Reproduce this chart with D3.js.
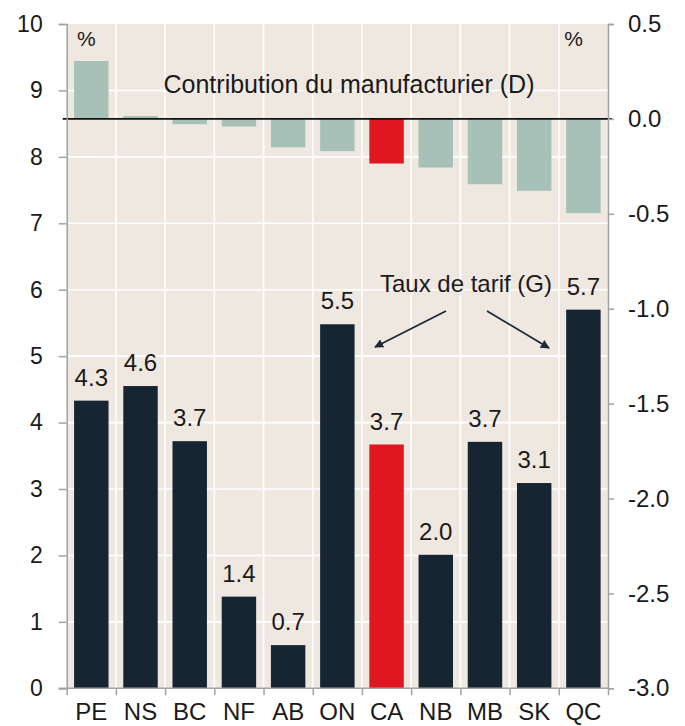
<!DOCTYPE html>
<html>
<head>
<meta charset="utf-8">
<script src="https://cdn.jsdelivr.net/npm/d3@7"></script>
<style>
  html, body { margin: 0; padding: 0; background: #ffffff; }
  svg { display: block; font-family: "Liberation Sans", Arial, sans-serif; }
</style>
</head>
<body>
<svg id="chart" width="685" height="726"></svg>
<script>
// ---- Data ----
const categories = ["PE", "NS", "BC", "NF", "AB", "ON", "CA", "NB", "MB", "SK", "QC"];
const tariffRate = [4.33, 4.55, 3.72, 1.38, 0.65, 5.48, 3.67, 2.01, 3.71, 3.09, 5.70];     // left axis (G)
const tariffLabels = ["4.3", "4.6", "3.7", "1.4", "0.7", "5.5", "3.7", "2.0", "3.7", "3.1", "5.7"];
const manufContribution = [0.305, 0.015, -0.028, -0.04, -0.15, -0.17, -0.235, -0.256, -0.344, -0.379, -0.497]; // right axis (D)
const highlight = "CA";
const leftTicks = [0, 1, 2, 3, 4, 5, 6, 7, 8, 9, 10];
const rightTicks = [0.5, 0.0, -0.5, -1.0, -1.5, -2.0, -2.5, -3.0];

// ---- Layout ----
const svg = d3.select("#chart");
const L = 66.7, R = 608, T = 24, B = 688.3;
const bg = "#efe8e1", dark = "#172532", red = "#e0171f", teal = "#a7c0b8", axisGrey = "#a3a3a3", ink = "#1a1a1a";

const x = d3.scaleBand().domain(categories).range([L, R]).paddingInner(0.3).paddingOuter(0.15);
const yL = d3.scaleLinear().domain([0, 10]).range([B, T]);
const yR = d3.scaleLinear().domain([-3, 0.5]).range([B, T]);
const step = x.step();

// background
svg.append("rect").attr("x", L).attr("y", T).attr("width", R - L).attr("height", B - T).attr("fill", bg);

// gridlines
const grid = svg.append("g").attr("stroke", "#ffffff").attr("stroke-width", 1.6);
leftTicks.filter(d => d > 0 && d < 10).forEach(d => {
  grid.append("line").attr("x1", L).attr("x2", R).attr("y1", yL(d)).attr("y2", yL(d));
});
d3.range(1, categories.length).forEach(i => {
  const gx = L + step * i;
  grid.append("line").attr("x1", gx).attr("x2", gx).attr("y1", T).attr("y2", B);
});

// tariff bars (left axis)
const data = categories.map((c, i) => ({ c, g: tariffRate[i], lab: tariffLabels[i], d: manufContribution[i] }));
svg.append("g").selectAll("rect").data(data).join("rect")
  .attr("x", d => x(d.c)).attr("width", x.bandwidth())
  .attr("y", d => yL(d.g)).attr("height", d => yL(0) - yL(d.g))
  .attr("fill", d => d.c === highlight ? red : dark);

svg.append("g").selectAll("text").data(data).join("text")
  .attr("x", d => x(d.c) + x.bandwidth() / 2)
  .attr("y", d => yL(d.g) - 15)
  .attr("text-anchor", "middle").attr("font-size", 24).attr("fill", ink)
  .text(d => d.lab);

// manufacturer contribution bars (right axis)
svg.append("g").selectAll("rect").data(data).join("rect")
  .attr("x", d => x(d.c)).attr("width", x.bandwidth())
  .attr("y", d => yR(Math.max(0, d.d)))
  .attr("height", d => Math.abs(yR(d.d) - yR(0)))
  .attr("fill", d => d.c === highlight ? red : teal);

// zero line of right axis
svg.append("line").attr("x1", L - 4).attr("x2", R + 4).attr("y1", yR(0)).attr("y2", yR(0))
  .attr("stroke", "#111").attr("stroke-width", 1.6);

// axes
function styleAxis(g) {
  g.select(".domain").attr("stroke", axisGrey).attr("stroke-width", 1.5);
  g.selectAll(".tick line").attr("stroke", axisGrey).attr("stroke-width", 1.5);
  g.selectAll(".tick text").attr("fill", ink).attr("font-family", "Liberation Sans, Arial, sans-serif");
}
const gLeft = svg.append("g").attr("transform", `translate(${L},0)`)
  .call(d3.axisLeft(yL).tickValues(leftTicks).tickFormat(d3.format("d")).tickSizeOuter(0).tickSize(8).tickPadding(16));
styleAxis(gLeft);
gLeft.selectAll(".tick text").attr("font-size", 23);

const gRight = svg.append("g").attr("transform", `translate(${R},0)`)
  .call(d3.axisRight(yR).tickValues(rightTicks).tickFormat(d3.format(".1f")).tickSizeOuter(0).tickSize(6).tickPadding(14));
styleAxis(gRight);
gRight.selectAll(".tick text").attr("font-size", 24).text(d => d3.format(".1f")(d).replace("−", "-"));

// bottom axis: ticks at category boundaries, labels centred
const boundaries = d3.range(0, categories.length + 1).map(i => L + step * i);
const xb = d3.scaleLinear().domain([L, R]).range([L, R]);
const gBottom = svg.append("g").attr("transform", `translate(0,${B})`)
  .call(d3.axisBottom(xb).tickValues(boundaries).tickFormat("").tickSizeOuter(0).tickSize(7));
styleAxis(gBottom);
gBottom.select(".domain").attr("d", `M${L - 8},0H${R}`);
svg.append("g").selectAll("text").data(categories).join("text")
  .attr("x", d => x(d) + x.bandwidth() / 2).attr("y", 720)
  .attr("text-anchor", "middle").attr("font-size", 24).attr("fill", ink)
  .text(d => d);

// annotations
svg.append("text").attr("x", 77).attr("y", 46).attr("font-size", 21).attr("fill", ink).text("%");
svg.append("text").attr("x", 583).attr("y", 46).attr("text-anchor", "end").attr("font-size", 21).attr("fill", ink).text("%");
svg.append("text").attr("x", 349).attr("y", 93).attr("text-anchor", "middle").attr("font-size", 25).attr("fill", ink)
  .text("Contribution du manufacturier (D)");
svg.append("text").attr("x", 466).attr("y", 292).attr("text-anchor", "middle").attr("font-size", 24).attr("fill", ink)
  .text("Taux de tarif (G)");

// arrows
const defs = svg.append("defs");
defs.append("marker").attr("id", "ah").attr("viewBox", "0 0 10 10").attr("refX", 9).attr("refY", 5)
  .attr("markerWidth", 9).attr("markerHeight", 9).attr("markerUnits", "userSpaceOnUse")
  .attr("orient", "auto")
  .append("path").attr("d", "M0,0L10,5L0,10Z").attr("fill", "#1c2a36");
const arrowG = svg.append("g").attr("stroke", "#1c2a36").attr("stroke-width", 1.8).attr("fill", "none");
arrowG.append("line").attr("x1", 446).attr("y1", 311).attr("x2", 375).attr("y2", 347).attr("marker-end", "url(#ah)");
arrowG.append("line").attr("x1", 487).attr("y1", 311).attr("x2", 549).attr("y2", 348).attr("marker-end", "url(#ah)");
</script>
</body>
</html>
